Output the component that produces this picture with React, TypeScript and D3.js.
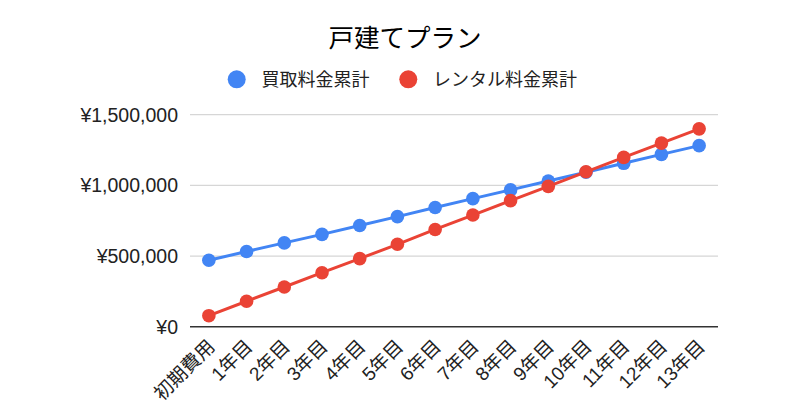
import React from "react";
import * as d3 from "d3";

const W = 800;
const H = 420;

const title = "戸建てプラン";
const categories = [
  "初期費用", "1年目", "2年目", "3年目", "4年目", "5年目", "6年目",
  "7年目", "8年目", "9年目", "10年目", "11年目", "12年目", "13年目",
];
const seriesNames = ["買取料金累計", "レンタル料金累計"];
const purchaseTotals = [
  470000, 532000, 593000, 653000, 716000, 779000, 843000,
  906000, 968000, 1031000, 1093000, 1156000, 1219000, 1281000,
];
const rentalTotals = [
  78000, 180000, 281000, 382000, 482000, 583000, 688000,
  790000, 892000, 993000, 1096000, 1198000, 1299000, 1400000,
];
const yTicks = [0, 500000, 1000000, 1500000];
const colors = ["#4285F4", "#EA4335"];

const margin = { left: 190, right: 82, top: 114.7, bottom: 93.3 };
const latin = "'Liberation Sans', Arial, 'Noto Sans CJK JP', sans-serif";
const cjk = "'Noto Sans CJK JP', 'Liberation Sans', sans-serif";

const fmtYen = (v: number) => "¥" + d3.format(",")(v);

export default function App() {
  const x = d3
    .scalePoint<string>()
    .domain(categories)
    .range([margin.left, W - margin.right])
    .padding(0.5);
  const y = d3
    .scaleLinear()
    .domain([0, 1500000])
    .range([H - margin.bottom, margin.top]);

  const series = [purchaseTotals, rentalTotals];
  const line = d3
    .line<number>()
    .x((_, i) => x(categories[i]) as number)
    .y((d) => y(d));

  const legendItems = [
    { cx: 236.7, tx: 261.5 },
    { cx: 408.3, tx: 433 },
  ];

  return (
    <svg
      width={W}
      height={H}
      style={{ position: "absolute", left: 0, top: 0, background: "#fff" }}
    >
      <rect width={W} height={H} fill="#fff" />
      <text
        x={405}
        y={47}
        textAnchor="middle"
        fontFamily={cjk}
        fontSize={25.5}
        fill="#000"
      >
        {title}
      </text>

      {seriesNames.map((name, i) => (
        <g key={name}>
          <circle cx={legendItems[i].cx} cy={79.3} r={9} fill={colors[i]} />
          <text
            x={legendItems[i].tx}
            y={85.5}
            fontFamily={cjk}
            fontSize={18}
            fill="#222"
          >
            {name}
          </text>
        </g>
      ))}

      {yTicks.map((t) => (
        <g key={t}>
          {t !== 0 && (
            <line
              x1={margin.left}
              x2={W - margin.right}
              y1={y(t)}
              y2={y(t)}
              stroke="#d6d6d6"
              strokeWidth={1.3}
            />
          )}
          <text
            x={178}
            y={y(t) + 6.8}
            textAnchor="end"
            fontFamily={latin}
            fontSize={19.5}
            fill="#222"
          >
            {fmtYen(t)}
          </text>
        </g>
      ))}

      <line
        x1={margin.left}
        x2={W - margin.right}
        y1={y(0)}
        y2={y(0)}
        stroke="#333"
        strokeWidth={1.5}
      />

      {categories.map((c) => {
        const px = x(c) as number;
        const py = H - margin.bottom + 21;
        return (
          <text
            key={c}
            transform={`translate(${px + 7},${py}) rotate(-45)`}
            textAnchor="end"
            fontFamily={latin}
            fontSize={19}
            fill="#222"
          >
            {c}
          </text>
        );
      })}

      {series.map((s, i) => (
        <g key={seriesNames[i]}>
          <path
            d={line(s) ?? ""}
            fill="none"
            stroke={colors[i]}
            strokeWidth={3}
            strokeLinejoin="round"
          />
          {s.map((v, j) => (
            <circle
              key={j}
              cx={x(categories[j]) as number}
              cy={y(v)}
              r={6.8}
              fill={colors[i]}
            />
          ))}
        </g>
      ))}
    </svg>
  );
}
